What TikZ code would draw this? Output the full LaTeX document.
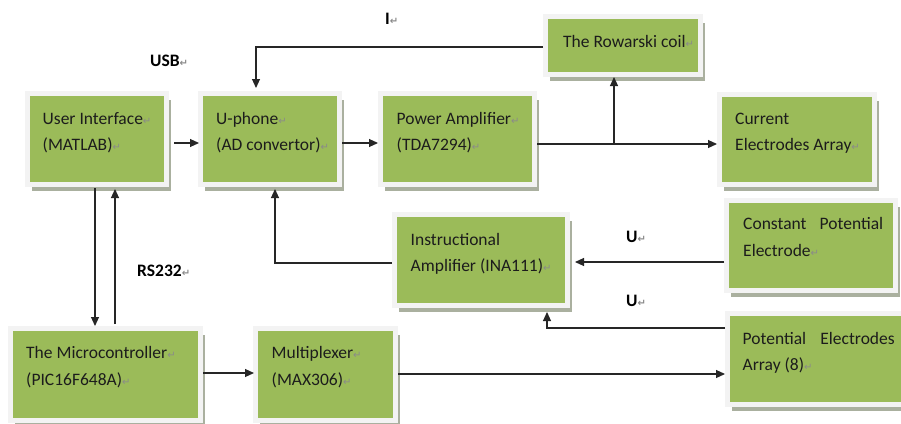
\documentclass[tikz,border=0pt]{standalone}
\usepackage{fontspec}
\setmainfont{Carlito}
\newfontfamily\symfont{DejaVu Sans}
\usetikzlibrary{arrows.meta,shadows,calc}

\definecolor{boxgreen}{HTML}{9BBB59}
\definecolor{framegray}{HTML}{F3F3F3}
\definecolor{shadegray}{HTML}{AAB09F}
\definecolor{inkdark}{HTML}{1C1C1C}
\definecolor{pmark}{HTML}{8A8A8A}
\definecolor{wire}{HTML}{262626}

% paragraph mark after a line of text
\newcommand\pmk{{\symfont\fontsize{10}{10}\selectfont\textcolor{pmark}{↵}}}
% one line of text placed by its baseline start
\newcommand\txtline[4]{\node[txt] (#1) at (#2,#3) {#4};}

\begin{document}
\begin{tikzpicture}[x=1pt,y=-1pt,
  blk/.style={draw=framegray, line width=5pt, fill=boxgreen, inner sep=0pt,
    rectangle, drop shadow={shadow xshift=4.5pt, shadow yshift=-6pt,
    fill=shadegray, opacity=1}},
  txt/.style={anchor=base west, inner sep=0pt, text=inkdark,
    font=\fontsize{17.5}{26}\selectfont},
  lbl/.style={anchor=base west, inner sep=0pt, text=black,
    font=\fontsize{17.5}{26}\selectfont\bfseries},
  conn/.style={draw=wire, line width=1.1pt,
    -{Triangle[length=9pt,width=8pt]}},
  plain/.style={draw=wire, line width=1.1pt}]

\useasboundingbox (0,0) rectangle (901,423);
\fill[white] (0,0) rectangle (901,423);
\clip (0,0) rectangle (901,423);

% blocks
\node[blk, minimum width=139pt, minimum height=91pt] (ui)    at (97,139)    {};
\node[blk, minimum width=139pt, minimum height=91pt] (uph)   at (270,139)   {};
\node[blk, minimum width=154pt, minimum height=91pt] (pa)    at (457.5,139) {};
\node[blk, minimum width=155pt, minimum height=58pt] (coil)  at (623,45.5)  {};
\node[blk, minimum width=155pt, minimum height=90pt] (cur)   at (797,139.5) {};
\node[blk, minimum width=169pt, minimum height=90pt] (con)   at (811,245.5) {};
\node[blk, minimum width=173pt, minimum height=91pt] (ina)   at (481,260)   {};
\node[blk, minimum width=181pt, minimum height=91pt] (pot)   at (818,359)   {};
\node[blk, minimum width=190pt, minimum height=92pt] (micro) at (105.5,374.5) {};
\node[blk, minimum width=140pt, minimum height=92pt] (mux)   at (325.5,374.5) {};

% block texts
\txtline{ui1}{42.5}{124}{User Interface\pmk}
\txtline{ui2}{42.5}{150}{(MATLAB)\pmk}
\txtline{uph1}{216}{124}{U-phone\pmk}
\txtline{uph2}{216}{150}{(AD convertor)\pmk}
\txtline{pa1}{396.5}{124}{Power Amplifier\pmk}
\txtline{pa2}{396.5}{150}{(TDA7294)\pmk}
\txtline{coil1}{563}{47}{The Rowarski coil\pmk}
\txtline{cur1}{735}{124}{Current}
\txtline{cur2}{735}{150.5}{Electrodes Array\pmk}
\txtline{con1}{743}{229}{\hbox to 140pt{Constant\hfill Potential}}
\txtline{con2}{743}{256}{Electrode\pmk}
\txtline{ina1}{410.5}{245}{Instructional}
\txtline{ina2}{410.5}{271.5}{Amplifier (INA111)\pmk}
\txtline{pot1}{742.5}{344}{\hbox to 152pt{Potential\hfill Electrodes}}
\txtline{pot2}{742.5}{370.5}{Array (8)\pmk}
\txtline{mic1}{26}{358}{The Microcontroller\pmk}
\txtline{mic2}{26}{385}{(PIC16F648A)\pmk}
\txtline{mux1}{271.5}{358}{Multiplexer\pmk}
\txtline{mux2}{271.5}{385}{(MAX306)\pmk}

% signal labels
\node[lbl] (lI)   at (385,24)    {I\pmk};
\node[lbl] (lusb) at (150,66.5)  {USB\pmk};
\node[lbl] (lrs)  at (137,276)   {RS232\pmk};
\node[lbl] (lu1)  at (626,242.5) {U\pmk};
\node[lbl] (lu2)  at (626,306)   {U\pmk};

% connectors
\draw[conn] ([xshift=5pt,yshift=-4pt]ui.east) -- ([xshift=1pt,yshift=-4pt]uph.west);
\draw[conn] ([yshift=-4pt]uph.east) -- ([yshift=-4pt]pa.west);
\coordinate (jn) at (614,144);
\draw[conn] ([yshift=-5pt]pa.east) -- ([yshift=-4.5pt]cur.west);
\draw[conn] (jn) -- (jn |- coil.south);
\draw[conn] ([yshift=-1.5pt]coil.west) -| ([xshift=-14pt,yshift=3pt]uph.north);
\draw[conn] ([yshift=-3pt]ina.west) -| ([xshift=5pt,yshift=-2pt]uph.south);
\draw[conn, shorten >=5pt] ([yshift=-16.5pt]con.west) -- ([yshift=-2pt]ina.east);
\coordinate (pk) at ([yshift=31pt]pot.west);
\draw[conn, shorten >=4pt] (pk) -| ([xshift=66pt]ina.south);
\draw[conn] ([xshift=-2pt,yshift=-1pt]ui.south) -- ([xshift=-10.5pt]micro.north);
\draw[conn] ([xshift=9.5pt,yshift=2pt]micro.north) -- ([xshift=18pt,yshift=-2pt]ui.south);
\draw[conn] ([yshift=1.5pt]micro.east) -- ([xshift=1pt,yshift=1.5pt]mux.west);
\coordinate (mx) at ([yshift=0.5pt]mux.east);
\draw[conn] (mx) -- (mx -| pot.west);
\end{tikzpicture}
\end{document}
